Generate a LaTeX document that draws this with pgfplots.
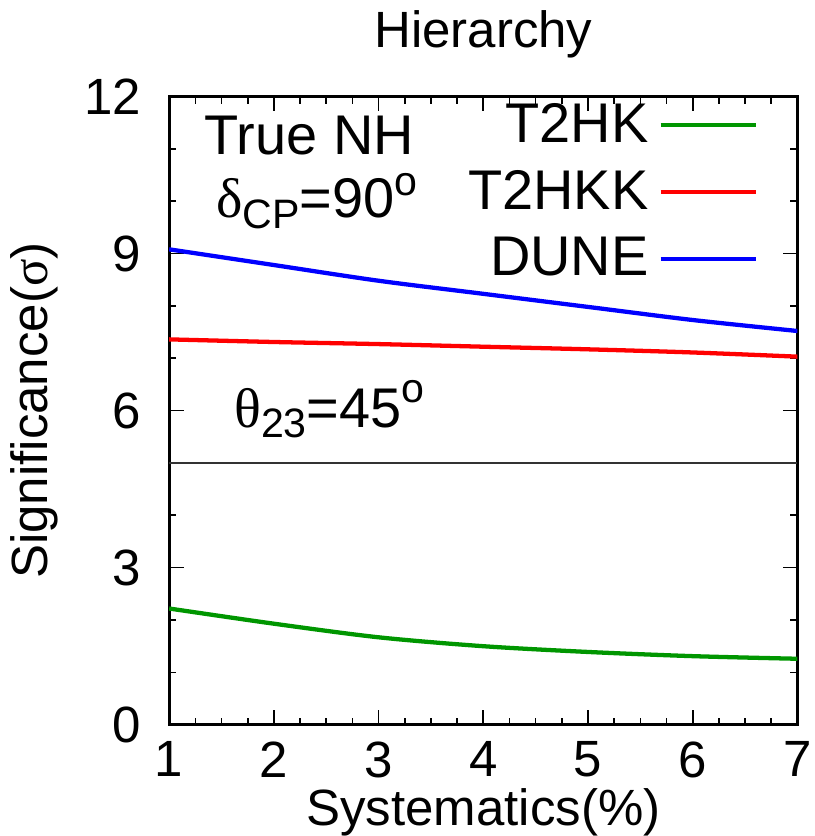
\documentclass[border=0pt]{standalone}
\usepackage{pgfplots}
\pgfplotsset{compat=1.18}
\usepackage{fontspec}
\setmainfont{Liberation Sans}
\newfontfamily\grk{Liberation Serif}
\definecolor{tgreen}{RGB}{0,150,0}
\definecolor{tred}{RGB}{255,0,0}
\definecolor{tblue}{RGB}{0,0,255}
\begin{document}
\begin{tikzpicture}
\begin{axis}[
  scale only axis,
  width=191pt, height=191pt,
  xmin=1, xmax=7, ymin=0, ymax=12,
  xtick={1,2,3,4,5,6,7},
  ytick={0,3,6,9,12},
  minor x tick num=3,
  minor y tick num=2,
  tick align=inside,
  major tick length=4.5pt,
  minor tick length=2.2pt,
  axis line style={line width=0.9pt},
  every tick/.style={black, line width=0.5pt},
  /pgf/number format/assume math mode=true,
  tick label style={font=\fontsize{15.5}{18}\selectfont},
  xticklabel style={inner sep=1pt, yshift=-4pt},
  yticklabel style={xshift=-5pt},
  title={Hierarchy},
  title style={font=\fontsize{15.5}{18}\selectfont, yshift=2pt},
  xlabel={Systematics(\%)},
  ylabel={Significance({\grk σ})},
  label style={font=\fontsize{15.5}{18}\selectfont},
  xlabel style={inner sep=0pt, yshift=-2pt},
  ylabel style={yshift=1pt},
  legend style={draw=none, fill=none, at={(axis cs:6.63,11.95)}, anchor=north east,
    font=\fontsize{17}{20}\selectfont, row sep=5pt, column sep=2pt, inner sep=0pt,
    nodes={inner sep=1pt}},
  legend cell align=right,
  legend plot pos=right,
  legend image code/.code={\draw[#1, line width=1.3pt] (5pt,0pt) -- (34pt,0pt);},
]
\addplot[tgreen, line width=1.3pt, smooth] coordinates {
 (1,2.22) (2,1.93) (3,1.67) (4,1.50) (5,1.39) (6,1.31) (7,1.26)};
\addlegendentry{T2HK}
\addplot[tred, line width=1.3pt, smooth] coordinates {
 (1,7.36) (2,7.31) (3,7.27) (4,7.22) (5,7.17) (6,7.11) (7,7.03)};
\addlegendentry{T2HKK}
\addplot[tblue, line width=1.3pt, smooth] coordinates {
 (1,9.08) (2,8.78) (3,8.48) (4,8.23) (5,7.98) (6,7.73) (7,7.52)};
\addlegendentry{DUNE}
\addplot[black!80, line width=0.5pt, forget plot] coordinates {(1,5) (7,5)};
\node[font=\fontsize{17}{20}\selectfont, inner sep=0pt] at (axis cs:2.34,11.26) {True NH};
\node[font=\fontsize{17}{20}\selectfont, inner sep=0pt] at (axis cs:2.41,10.0) {{\grk δ}\raisebox{-0.35ex}{\fontsize{12.5}{14}\selectfont CP}=90\raisebox{0.75ex}{\fontsize{12.5}{14}\selectfont o}};
\node[font=\fontsize{17}{20}\selectfont, inner sep=0pt] at (axis cs:2.53,6.03) {{\grk θ}\raisebox{-0.35ex}{\fontsize{12.5}{14}\selectfont 23}=45\raisebox{0.85ex}{\fontsize{12.5}{14}\selectfont o}};
\end{axis}
\end{tikzpicture}
\end{document}
